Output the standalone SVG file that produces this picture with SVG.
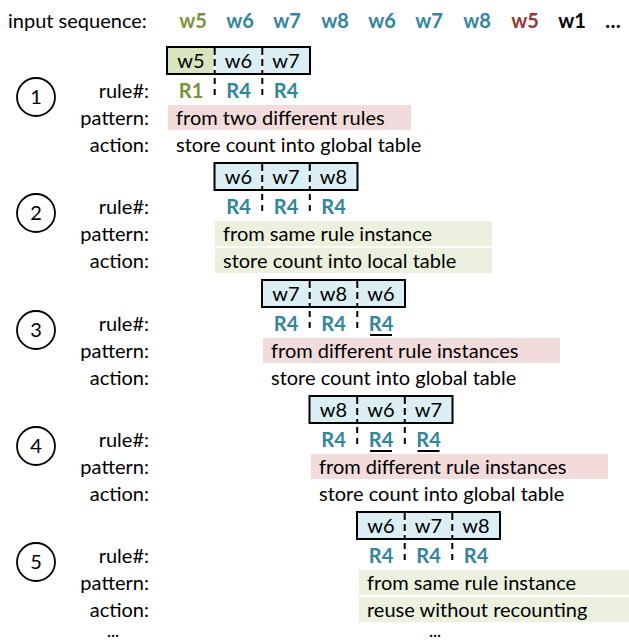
<svg xmlns="http://www.w3.org/2000/svg" width="629" height="641" viewBox="0 0 629 641">
<style>
text{font-family:Lato,"Open Sans","Liberation Sans",sans-serif;font-size:20px;fill:#000}
.lbl{text-anchor:end}
.c{text-anchor:middle}
.b{font-weight:bold}
.g{fill:#77933c}
.bl{fill:#31859c}
.r{fill:#953735}
.box{fill:none;stroke:#000;stroke-width:2}
.cg{fill:#d7e4bd}
.cb{fill:#dbeef4}
.dw{stroke:#fff;stroke-width:2}
.dk{stroke:#000;stroke-width:2;stroke-dasharray:7 4}
.tick{stroke:#000;stroke-width:2;stroke-dasharray:6 5}
.pk{fill:#f2dcdb}
.gr{fill:#ebf1de}
.circ{fill:none;stroke:#000;stroke-width:1.8}
.ul{stroke:#000;stroke-width:2}
.dots{font-size:15px;font-weight:bold}
</style>
<rect width="629" height="641" fill="#fff"/>
<g id="header">
<text x="8" y="28">input sequence:</text>
<text class="c b g" x="193" y="28">w5</text>
<text class="c b bl" x="240" y="28">w6</text>
<text class="c b bl" x="287" y="28">w7</text>
<text class="c b bl" x="335" y="28">w8</text>
<text class="c b bl" x="382" y="28">w6</text>
<text class="c b bl" x="429" y="28">w7</text>
<text class="c b bl" x="477" y="28">w8</text>
<text class="c b r" x="525" y="28">w5</text>
<text class="c b" x="572" y="28">w1</text>
<text class="c b" x="613" y="28">…</text>
</g>
<g id="step1">
<circle class="circ" cx="36" cy="97" r="19"/><text class="c" x="36" y="104">1</text>
<rect class="cg" x="167" y="47" width="47.7" height="27"/>
<rect class="cb" x="214.7" y="47" width="95.3" height="27"/>
<line class="dw" x1="214.7" y1="48" x2="214.7" y2="73"/><line class="dk" x1="214.7" y1="48" x2="214.7" y2="73"/>
<line class="dw" x1="262.3" y1="48" x2="262.3" y2="73"/><line class="dk" x1="262.3" y1="48" x2="262.3" y2="73"/>
<rect class="box" x="167" y="47" width="143" height="27"/>
<text class="c" x="191" y="68">w5</text><text class="c" x="238.5" y="68">w6</text><text class="c" x="286" y="68">w7</text>
<line class="tick" x1="214.7" y1="78" x2="214.7" y2="95"/><line class="tick" x1="262.3" y1="78" x2="262.3" y2="95"/>
<text class="lbl" x="149" y="98">rule#:</text>
<text class="c b g" x="191" y="98">R1</text><text class="c b bl" x="238.5" y="98">R4</text><text class="c b bl" x="286" y="98">R4</text>
<text class="lbl" x="149" y="125">pattern:</text>
<rect class="pk" x="168" y="105" width="243" height="25"/>
<text x="176" y="125">from two different rules</text>
<text class="lbl" x="149" y="152">action:</text>
<text x="176" y="152">store count into global table</text>
</g>
<g id="step2">
<circle class="circ" cx="36" cy="213" r="19"/><text class="c" x="36" y="220">2</text>
<rect class="cb" x="214.5" y="163" width="143" height="27"/>
<line class="dw" x1="262.2" y1="164" x2="262.2" y2="189"/><line class="dk" x1="262.2" y1="164" x2="262.2" y2="189"/>
<line class="dw" x1="309.8" y1="164" x2="309.8" y2="189"/><line class="dk" x1="309.8" y1="164" x2="309.8" y2="189"/>
<rect class="box" x="214.5" y="163" width="143" height="27"/>
<text class="c" x="238.5" y="184">w6</text><text class="c" x="286" y="184">w7</text><text class="c" x="333.5" y="184">w8</text>
<line class="tick" x1="262.2" y1="194" x2="262.2" y2="211"/><line class="tick" x1="309.8" y1="194" x2="309.8" y2="211"/>
<text class="lbl" x="149" y="214">rule#:</text>
<text class="c b bl" x="238.5" y="214">R4</text><text class="c b bl" x="286" y="214">R4</text><text class="c b bl" x="333.5" y="214">R4</text>
<text class="lbl" x="149" y="241">pattern:</text>
<rect class="gr" x="215" y="221" width="277" height="25"/>
<text x="223" y="241">from same rule instance</text>
<text class="lbl" x="149" y="268">action:</text>
<rect class="gr" x="215" y="248" width="277" height="25"/>
<text x="223" y="268">store count into local table</text>
</g>
<g id="step3">
<circle class="circ" cx="36" cy="330" r="19"/><text class="c" x="36" y="337">3</text>
<rect class="cb" x="262" y="280" width="143" height="27"/>
<line class="dw" x1="309.7" y1="281" x2="309.7" y2="306"/><line class="dk" x1="309.7" y1="281" x2="309.7" y2="306"/>
<line class="dw" x1="357.3" y1="281" x2="357.3" y2="306"/><line class="dk" x1="357.3" y1="281" x2="357.3" y2="306"/>
<rect class="box" x="262" y="280" width="143" height="27"/>
<text class="c" x="286" y="301">w7</text><text class="c" x="333.5" y="301">w8</text><text class="c" x="381" y="301">w6</text>
<line class="tick" x1="309.7" y1="311" x2="309.7" y2="328"/><line class="tick" x1="357.3" y1="311" x2="357.3" y2="328"/>
<text class="lbl" x="149" y="331">rule#:</text>
<text class="c b bl" x="286" y="331">R4</text><text class="c b bl" x="333.5" y="331">R4</text><text class="c b bl" x="381" y="331">R4</text>
<line class="ul" x1="370" y1="335" x2="392" y2="335"/>
<text class="lbl" x="149" y="358">pattern:</text>
<rect class="pk" x="263" y="338" width="297" height="25"/>
<text x="271" y="358">from different rule instances</text>
<text class="lbl" x="149" y="385">action:</text>
<text x="271" y="385">store count into global table</text>
</g>
<g id="step4">
<circle class="circ" cx="36" cy="446" r="19"/><text class="c" x="36" y="453">4</text>
<rect class="cb" x="309.5" y="396" width="143" height="27"/>
<line class="dw" x1="357.2" y1="397" x2="357.2" y2="422"/><line class="dk" x1="357.2" y1="397" x2="357.2" y2="422"/>
<line class="dw" x1="404.8" y1="397" x2="404.8" y2="422"/><line class="dk" x1="404.8" y1="397" x2="404.8" y2="422"/>
<rect class="box" x="309.5" y="396" width="143" height="27"/>
<text class="c" x="333.5" y="417">w8</text><text class="c" x="381" y="417">w6</text><text class="c" x="428.5" y="417">w7</text>
<line class="tick" x1="357.2" y1="427" x2="357.2" y2="444"/><line class="tick" x1="404.8" y1="427" x2="404.8" y2="444"/>
<text class="lbl" x="149" y="447">rule#:</text>
<text class="c b bl" x="333.5" y="447">R4</text><text class="c b bl" x="381" y="447">R4</text><text class="c b bl" x="428.5" y="447">R4</text>
<line class="ul" x1="370" y1="451" x2="392" y2="451"/><line class="ul" x1="417.5" y1="451" x2="439.5" y2="451"/>
<text class="lbl" x="149" y="474">pattern:</text>
<rect class="pk" x="311" y="454" width="297" height="25"/>
<text x="319" y="474">from different rule instances</text>
<text class="lbl" x="149" y="501">action:</text>
<text x="319" y="501">store count into global table</text>
</g>
<g id="step5">
<circle class="circ" cx="36" cy="562" r="19"/><text class="c" x="36" y="569">5</text>
<rect class="cb" x="357" y="512" width="143" height="27"/>
<line class="dw" x1="404.7" y1="513" x2="404.7" y2="538"/><line class="dk" x1="404.7" y1="513" x2="404.7" y2="538"/>
<line class="dw" x1="452.3" y1="513" x2="452.3" y2="538"/><line class="dk" x1="452.3" y1="513" x2="452.3" y2="538"/>
<rect class="box" x="357" y="512" width="143" height="27"/>
<text class="c" x="381" y="533">w6</text><text class="c" x="428.5" y="533">w7</text><text class="c" x="476" y="533">w8</text>
<line class="tick" x1="404.7" y1="543" x2="404.7" y2="560"/><line class="tick" x1="452.3" y1="543" x2="452.3" y2="560"/>
<text class="lbl" x="149" y="563">rule#:</text>
<text class="c b bl" x="381" y="563">R4</text><text class="c b bl" x="428.5" y="563">R4</text><text class="c b bl" x="476" y="563">R4</text>
<text class="lbl" x="149" y="590">pattern:</text>
<rect class="gr" x="359" y="570" width="270" height="25"/>
<text x="367" y="590">from same rule instance</text>
<text class="lbl" x="149" y="617">action:</text>
<rect class="gr" x="359" y="597" width="270" height="25"/>
<text x="367" y="617">reuse without recounting</text>
</g>
<g id="continuation">
<text class="c dots" x="113" y="637">…</text>
<text class="c dots" x="435" y="637">…</text>
</g>
</svg>
